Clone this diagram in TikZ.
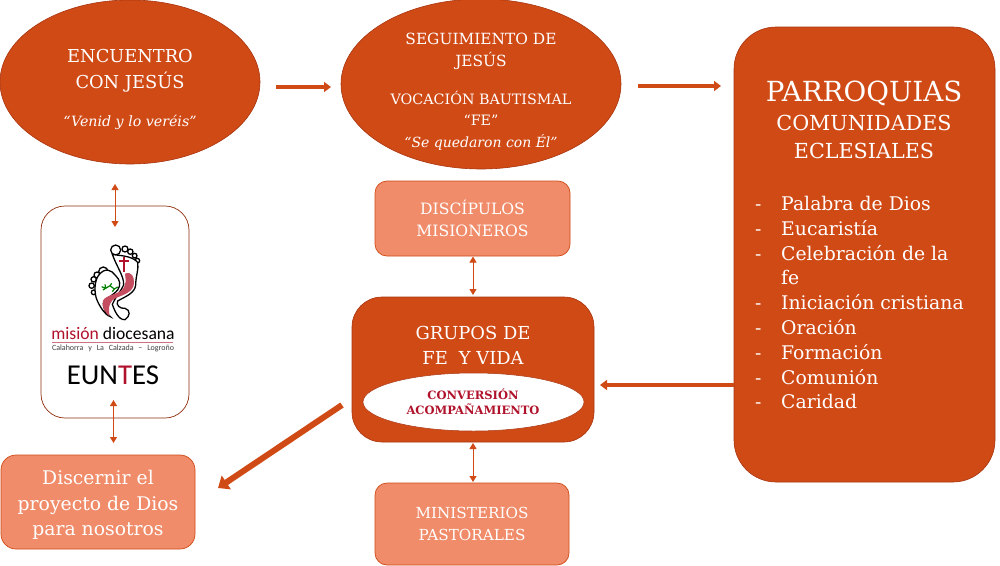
\documentclass[tikz,border=0pt]{standalone}
\usepackage{fontspec}
\setmainfont{DejaVu Serif}
\newfontfamily\logofont{Carlito}
\usetikzlibrary{arrows.meta,shapes.geometric}
\definecolor{rust}{HTML}{D04A16}
\definecolor{rustedge}{HTML}{A8340F}
\definecolor{salmon}{HTML}{F08C6A}
\definecolor{wine}{HTML}{B0122B}
\newcommand{\fsz}[2]{\fontsize{#1pt}{#2pt}\selectfont}
\newcommand{\li}[1]{\makebox[26pt][l]{-}#1}
\tikzset{
  x=1pt,y=-1pt,
  mainell/.style={ellipse,fill=rust,draw=rustedge,line width=.6pt,minimum width=#1,inner sep=0pt,outer sep=0pt},
  mainbox/.style={rectangle,rounded corners=30pt,fill=rust,draw=rustedge,line width=.6pt,inner sep=0pt,outer sep=0pt},
  softbox/.style={rectangle,rounded corners=12pt,fill=salmon,draw=rust,line width=.7pt,inner sep=0pt,outer sep=0pt,text=white,align=center},
  txt/.style={text=white,align=center,inner sep=0pt},
  blockarrow/.style={draw=rust,line width=3.6pt,-{Triangle[length=7pt,width=10pt]}},
  thinarrow/.style={draw=rust,line width=.9pt,{Triangle[length=6pt,width=7pt]}-{Triangle[length=6pt,width=7pt]}},
  foot/.style={draw=black,fill=white,line width=1.3pt},
}
\begin{document}
\begin{tikzpicture}
\useasboundingbox (0,0) rectangle (1000,565);
\node[mainell=260pt,minimum height=164pt] (enc) at (130,82) {};
\node[mainell=280pt,minimum height=170pt] (seg) at (481,84) {};
\node[mainbox,rounded corners=42pt,minimum width=261pt,minimum height=455pt] (par) at (864.5,254.5) {};
\node[softbox,minimum width=195pt,minimum height=75pt,font=\fsz{15.6}{21.5}] (dis) at (472.5,218.5) {DISCÍPULOS\\MISIONEROS};
\node[mainbox,minimum width=242pt,minimum height=145pt] (gru) at (473,369.5) {};
\node[ellipse,fill=white,draw=rustedge,line width=.5pt,minimum width=221pt,minimum height=58pt,inner sep=0pt] (con) at (473.5,402) {};
\node[softbox,minimum width=194pt,minimum height=82pt,font=\fsz{15.2}{21.5}] (min) at (472,524) {MINISTERIOS\\PASTORALES};
\node[softbox,rounded corners=15pt,minimum width=194pt,minimum height=94pt] (dsc) at (98,502) {};
\node[rectangle,rounded corners=24pt,draw=rustedge!85!black,fill=white,line width=.7pt,minimum width=148pt,minimum height=212pt,inner sep=0pt] (logo) at (115,312) {};
% texts
\node[txt,font=\fsz{18.8}{25.5}] (t0) at (98,505) {Discernir el\\proyecto de Dios\\para nosotros};
\node[txt,font=\fsz{17.8}{26}] (t1) at (130,71) {ENCUENTRO\\CON JESÚS};
\node[txt,font=\fsz{14.2}{18}\itshape] (t2) at (130,122) {“Venid y lo veréis”};
\node[txt,font=\fsz{15.4}{22}] (t3) at (481,51) {SEGUIMIENTO DE\\JESÚS};
\node[txt,font=\fsz{14.3}{21.5}] (t4) at (481,120.5) {VOCACIÓN BAUTISMAL\\“FE”\\{\itshape\fsz{14}{21.5}“Se quedaron con Él”}};
\node[txt,font=\fsz{27.7}{30}] (t5) at (864,93) {PARROQUIAS};
\node[txt,font=\fsz{20.7}{28}] (t6) at (864,137) {COMUNIDADES\\ECLESIALES};
\node[text=white,align=left,inner sep=0pt,anchor=north west,font=\fsz{18.8}{24.8}] (t7) at (755,196) {\li{Palabra de Dios}\\\li{Eucaristía}\\\li{Celebración de la}\\\hspace*{26pt}fe\\\li{Iniciación cristiana}\\\li{Oración}\\\li{Formación}\\\li{Comunión}\\\li{Caridad}};
\node[txt,font=\fsz{17.9}{25}] (t8) at (473,345) {GRUPOS DE\\FE\hspace{.3em} Y VIDA};
\node[align=center,inner sep=0pt,text=wine,font=\fsz{11.5}{15}\bfseries] (t9) at (473,401.5) {CONVERSIÓN\\ACOMPAÑAMIENTO};
% connectors
\coordinate (a1s) at (276,87); \coordinate (a1e) at (331,87);
\coordinate (a2s) at (638,86); \coordinate (a2e) at (721,86);
\coordinate (a3s) at (734,385); \coordinate (a3e) at (600,385);
\coordinate (a4s) at (342,405); \coordinate (a4e) at (218,488);
\coordinate (b1s) at (115,184); \coordinate (b1e) at (115,227);
\coordinate (b2s) at (113.5,400); \coordinate (b2e) at (113.5,443);
\coordinate (b3s) at (473,256.5); \coordinate (b3e) at (473,295);
\coordinate (b4s) at (473,443); \coordinate (b4e) at (473,482);
\draw[blockarrow] (a1s) -- (a1e);
\draw[blockarrow] (a2s) -- (a2e);
\draw[blockarrow] (a3s) -- (a3e);
\draw[blockarrow,line width=6pt,-{Triangle[length=10pt,width=16pt]}] (a4s) -- (a4e);
\draw[thinarrow] (b1s) -- (b1e);
\draw[thinarrow] (b2s) -- (b2e);
\draw[thinarrow] (b3s) -- (b3e);
\draw[thinarrow] (b4s) -- (b4e);
% logo artwork (coordinates are the 3x crop at 75,235)
\begin{scope}[shift={(75,235)},x=.3333pt,y=-.3333pt]
% small foot
\draw[foot] (85,110) circle [radius=14];
\draw[foot] (66,120) circle [radius=9];
\draw[foot] (56,133) circle [radius=8];
\draw[foot] (50,152) circle [radius=8];
\draw[foot] (56,172) circle [radius=7];
\draw[foot] (70,122) .. controls (90,95) and (110,105) .. (122,122) .. controls (136,135) and (138,150) .. (128,165) .. controls (110,185) and (90,190) .. (85,205) .. controls (84,220) and (95,235) .. (106,245) .. controls (90,240) and (72,212) .. (64,190) .. controls (58,170) and (58,140) .. (70,122) -- cycle;
% big foot
\draw[foot] (122,45) circle [radius=15];
\draw[foot] (150,42) circle [radius=9];
\draw[foot] (166,50) circle [radius=8];
\draw[foot] (179,62) circle [radius=7];
\draw[foot] (187,77) circle [radius=7];
\draw[foot] (112,58) .. controls (125,62) and (170,60) .. (188,82) .. controls (192,100) and (182,125) .. (182,150) .. controls (180,175) and (150,185) .. (128,198) .. controls (122,210) and (135,222) .. (150,220) .. controls (168,225) and (165,245) .. (150,254) .. controls (130,256) and (118,225) .. (112,208) .. controls (125,180) and (140,165) .. (146,150) .. controls (148,125) and (125,95) .. (112,58) -- cycle;
% ribbon
\fill[wine!75!white] (150,116) .. controls (170,108) and (178,125) .. (177,145) .. controls (175,170) and (150,178) .. (125,188) .. controls (105,195) and (98,215) .. (104,244) .. controls (92,236) and (78,215) .. (84,197) .. controls (92,180) and (125,180) .. (143,163) .. controls (155,150) and (152,130) .. (150,116) -- cycle;
% cross
\fill[wine] (143,66) rectangle (151,112);
\fill[wine] (132,75) rectangle (162,82);
% sprig
\draw[green!50!black,line width=1.2pt] (80,155) -- (92,160) -- (105,152) (92,160) -- (90,148) (105,152) -- (118,162) -- (128,156) (105,152) -- (110,145) (84,165) -- (92,160) (118,162) -- (112,170);
\end{scope}
\node[inner sep=0pt,text=wine,font=\logofont\fsz{17.6}{20}] (l1) at (113,333) {misión \textcolor{black}{diocesana}};
\draw[wine!60!white,line width=.8pt] (52,342) -- (173,342);
\node[inner sep=0pt,text=black!75,font=\logofont\fsz{8}{8}] (l2) at (113,348.5) {\makebox[122pt][s]{Calahorra\hfil y\hfil La\hfil Calzada\hfil −\hfil Logroño}};
\node[inner sep=0pt,font=\logofont\fsz{28.8}{30}] (l3) at (113,375) {EUN\textcolor{wine}{T}ES};
\end{tikzpicture}
\end{document}
